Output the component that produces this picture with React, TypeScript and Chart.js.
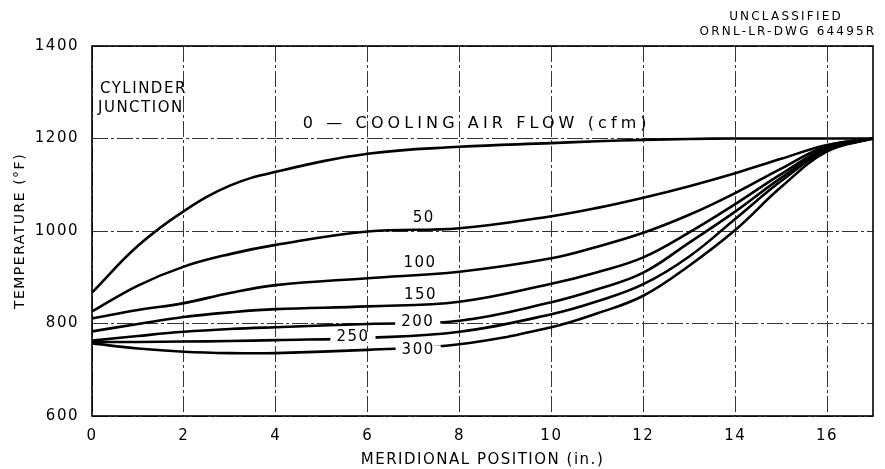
import React, { useEffect, useRef } from "react";
import { Chart, registerables } from "chart.js";

Chart.register(...registerables);

// Meridional position (in.)
const positions = [0, 1, 2, 3, 4, 6, 8, 10, 11, 12, 13, 14, 15, 16, 17];
// Temperature (°F) for each cooling air flow (cfm)
const flow0 = [867, 968, 1043, 1098, 1128, 1167, 1182, 1190, 1194, 1197, 1199, 1200, 1200, 1200, 1200];
const flow50 = [826, 882, 923, 950, 970, 999, 1006, 1032, 1050, 1072, 1097, 1125, 1156, 1186, 1200];
const flow100 = [811, 829, 844, 866, 883, 898, 912, 941, 966, 996, 1035, 1082, 1135, 1184, 1200];
const flow150 = [783, 799, 814, 824, 831, 837, 847, 886, 911, 943, 997, 1058, 1123, 1180, 1200];
const flow200 = [763, 773, 782, 788, 792, 799, 806, 846, 874, 910, 975, 1042, 1115, 1177, 1200];
const flow250 = [760, 760, 761, 762, 764, 769, 782, 820, 848, 885, 945, 1026, 1108, 1175, 1200];
const flow300 = [757, 746, 739, 736, 736, 743, 755, 792, 822, 860, 925, 1002, 1095, 1172, 1200];

const seriesNames = ["0", "50", "100", "150", "200", "250", "300"];
const seriesValues = [flow0, flow50, flow100, flow150, flow200, flow250, flow300];

const xTicks = [0, 2, 4, 6, 8, 10, 12, 14, 16];
const yTicks = [600, 800, 1000, 1200, 1400];

// Curve annotations: text, anchor in data coords, alignment, knock-out of line
const labelTexts = ["0 — COOLING AIR FLOW (cfm)", "50", "100", "150", "200", "250", "300"];
const labelX = [4.59, 7.22, 7.14, 7.15, 7.09, 5.68, 7.1];
const labelY = [1231, 1028, 931, 862, 804, 771, 742];
const labelAlign = ["left", "center", "center", "center", "center", "center", "center"];
const labelKnockout = [false, false, false, false, true, true, true];

const FONT = '"DejaVu Sans", "Liberation Sans", sans-serif';

const overlayPlugin = {
  id: "overlay",
  beforeDraw(chart: any) {
    chart.ctx.letterSpacing = "1.5px";
  },
  beforeDatasetsDraw(chart: any) {
    const { ctx, chartArea } = chart;
    ctx.save();
    ctx.strokeStyle = "#000";
    ctx.lineWidth = 1.6;
    ctx.setLineDash([]);
    ctx.strokeRect(chartArea.left, chartArea.top, chartArea.right - chartArea.left, chartArea.bottom - chartArea.top);
    ctx.restore();
  },
  afterDatasetsDraw(chart: any) {
    const { ctx, chartArea, scales } = chart;
    const xs = scales.x;
    const ys = scales.y;
    ctx.save();
    ctx.fillStyle = "#000";
    ctx.textBaseline = "middle";
    for (let i = 0; i < labelTexts.length; i++) {
      const px = xs.getPixelForValue(labelX[i]);
      const py = ys.getPixelForValue(labelY[i]);
      ctx.font = i === 0 ? `16px ${FONT}` : `15px ${FONT}`;
      ctx.letterSpacing = i === 0 ? "4.1px" : "1.5px";
      const w = ctx.measureText(labelTexts[i]).width;
      if (labelKnockout[i]) {
        ctx.fillStyle = "#fff";
        ctx.fillRect(px - w / 2 - 6, py - 5, w + 12, 10);
        ctx.fillStyle = "#000";
      }
      ctx.textAlign = labelAlign[i];
      ctx.fillText(labelTexts[i], px, py);
    }
    ctx.letterSpacing = "1.5px";
    ctx.font = `15px ${FONT}`;
    ctx.textAlign = "left";
    ctx.fillText("CYLINDER", chartArea.left + 8, 89);
    ctx.fillText("JUNCTION", chartArea.left + 6, 108);
    ctx.font = `12px ${FONT}`;
    ctx.letterSpacing = "2.2px";
    ctx.textAlign = "center";
    ctx.fillText("UNCLASSIFIED", 786, 17);
    ctx.fillText("ORNL-LR-DWG 64495R", 788, 32);
    ctx.restore();
  },
};

export default function App() {
  const canvasRef = useRef<HTMLCanvasElement | null>(null);

  useEffect(() => {
    if (!canvasRef.current) return;
    const chart = new Chart(canvasRef.current, {
      type: "line",
      data: {
        datasets: seriesValues.map((vals, i) => ({
          label: seriesNames[i],
          data: positions.map((x, j) => ({ x, y: vals[j] })),
          borderColor: "#000",
          backgroundColor: "#000",
          borderWidth: 2.6,
          pointRadius: 0,
          tension: 0.4,
          fill: false,
        })),
      },
      options: {
        animation: false,
        responsive: false,
        devicePixelRatio: 1,
        layout: { padding: { top: 46, right: 12, left: 0, bottom: 0 } },
        plugins: {
          legend: { display: false },
          tooltip: { enabled: false },
        },
        scales: {
          x: {
            type: "linear",
            min: 0,
            max: 17,
            afterBuildTicks: (s: any) => {
              s.ticks = xTicks.map((v) => ({ value: v }));
            },
            afterFit: (s: any) => {
              s.height = 53;
            },
            grid: { color: "#333", lineWidth: 1, drawTicks: false },
            border: { display: false, dash: [16, 3, 3, 3] },
            ticks: {
              color: "#000",
              padding: 11,
              font: { family: FONT, size: 15 },
              maxRotation: 0,
              callback: (v: any) => String(v),
            },
            title: {
              display: true,
              text: "MERIDIONAL POSITION (in.)",
              color: "#000",
              font: { family: FONT, size: 15 },
              padding: { top: 0, bottom: 0 },
            },
          },
          y: {
            type: "linear",
            min: 600,
            max: 1400,
            afterBuildTicks: (s: any) => {
              s.ticks = yTicks.map((v) => ({ value: v }));
            },
            afterFit: (s: any) => {
              s.width = 92;
            },
            grid: { color: "#333", lineWidth: 1, drawTicks: false },
            border: { display: false, dash: [16, 3, 3, 3] },
            ticks: {
              color: "#000",
              padding: 13,
              font: { family: FONT, size: 15 },
              callback: (v: any) => String(v),
            },
            title: {
              display: true,
              text: "TEMPERATURE (°F)",
              color: "#000",
              font: { family: FONT, size: 14 },
              padding: { top: 12, bottom: 0 },
            },
          },
        },
      },
      plugins: [overlayPlugin],
    });
    return () => chart.destroy();
  }, []);

  return (
    <div style={{ position: "absolute", left: 0, top: 0, width: 885, height: 469, background: "#fff" }}>
      <canvas ref={canvasRef} width={885} height={469} style={{ width: 885, height: 469, display: "block" }} />
    </div>
  );
}
